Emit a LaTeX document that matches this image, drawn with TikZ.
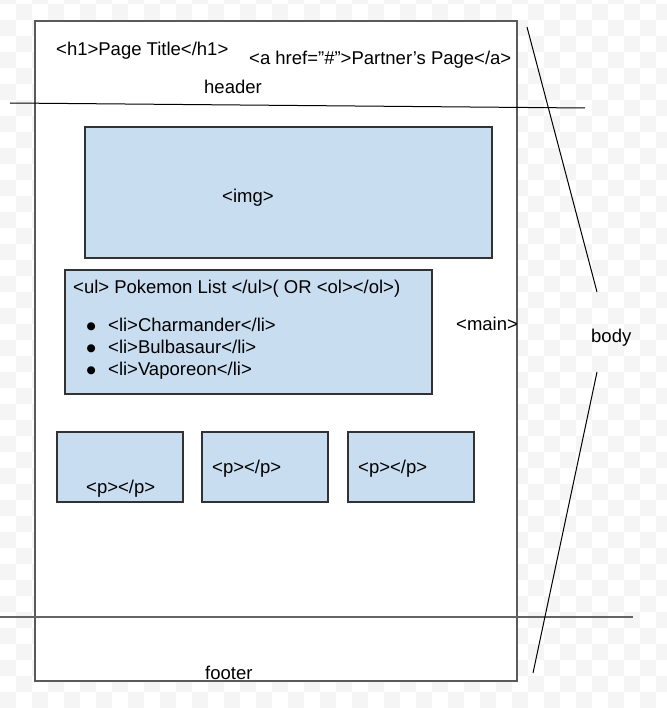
\documentclass[tikz,border=0pt]{standalone}
\usepackage{fontspec}
\setmainfont{Liberation Sans}
\newfontfamily\symfont{DejaVu Sans}
\definecolor{checkgray}{RGB}{245,245,245}
\definecolor{boxblue}{RGB}{200,221,240}
\definecolor{pageborder}{RGB}{90,90,90}
\definecolor{boxborder}{RGB}{50,50,50}
\definecolor{footline}{RGB}{100,100,100}
\newcommand{\listdot}{\makebox[22bp][l]{\hspace{0.5bp}\raisebox{1.8bp}{\symfont\fontsize{10.5bp}{12bp}\selectfont ●}}}
\tikzset{
  txt/.style={inner sep=0pt, font=\fontsize{18.5bp}{22bp}\selectfont, anchor=base west},
  bluebox/.style={draw=boxborder, fill=boxblue, line width=1.2bp},
  thinline/.style={draw=black, line width=1bp},
}
\begin{document}
\begin{tikzpicture}[x=1bp,y=-1bp]
\useasboundingbox (0,0) rectangle (667,708);
% checkerboard background
\begin{scope}
\clip (0,0) rectangle (667,708);
\foreach \x in {0,32,...,672} {
  \foreach \y in {-12,20,...,708} {
    \fill[checkgray] (\x,\y) rectangle ++(16,16);
    \fill[checkgray] (\x+16,\y+16) rectangle ++(16,16);
  }
}
\end{scope}
% page
\draw[draw=pageborder, fill=white, line width=1.3bp] (35,21) rectangle (517,681);
% header line
\coordinate (hl1) at (10,103);
\coordinate (hl2) at (585,108);
\draw[thinline] (hl1) -- (hl2);
% footer line
\coordinate (fl1) at (0,617);
\coordinate (fl2) at (633,617);
\draw[draw=footline, line width=1.2bp] (fl1) -- (fl2);
% body lines
\coordinate (b1) at (527,27);
\coordinate (b2) at (597,292);
\coordinate (b3) at (597,372);
\coordinate (b4) at (533,673);
\draw[thinline] (b1) -- (b2);
\draw[thinline] (b3) -- (b4);
% header texts
\node[txt] (h1) at (56,56) {<h1>Page Title</h1>};
\node[txt] (ahref) at (249,65) {<a href=”\#”>Partner’s Page</a>};
\node[txt] (header) at (204,94) {header};
% img box
\draw[bluebox] (85,127) rectangle (492,258);
\node[txt] (img) at (222,202) {<img>};
% list box
\draw[bluebox] (65,270) rectangle (432,394);
\node[txt] (ul) at (73,293) {<ul> Pokemon List </ul>( OR <ol></ol>)};
\node[txt] (li1) at (86,331) {\listdot<li>Charmander</li>};
\node[txt] (li2) at (86,353) {\listdot<li>Bulbasaur</li>};
\node[txt] (li3) at (86,375) {\listdot<li>Vaporeon</li>};
% main / body labels
\node[txt] (main) at (456,330) {<main>};
\node[txt] (body) at (591,342) {body};
% p boxes
\draw[bluebox] (57,432) rectangle (183,502);
\draw[bluebox] (202,432) rectangle (328,502);
\draw[bluebox] (348,432) rectangle (474,502);
\node[txt] (p1) at (86,493) {<p></p>};
\node[txt] (p2) at (212,473) {<p></p>};
\node[txt] (p3) at (358,473) {<p></p>};
% footer
\node[txt] (footer) at (205,679) {footer};
\end{tikzpicture}
\end{document}
